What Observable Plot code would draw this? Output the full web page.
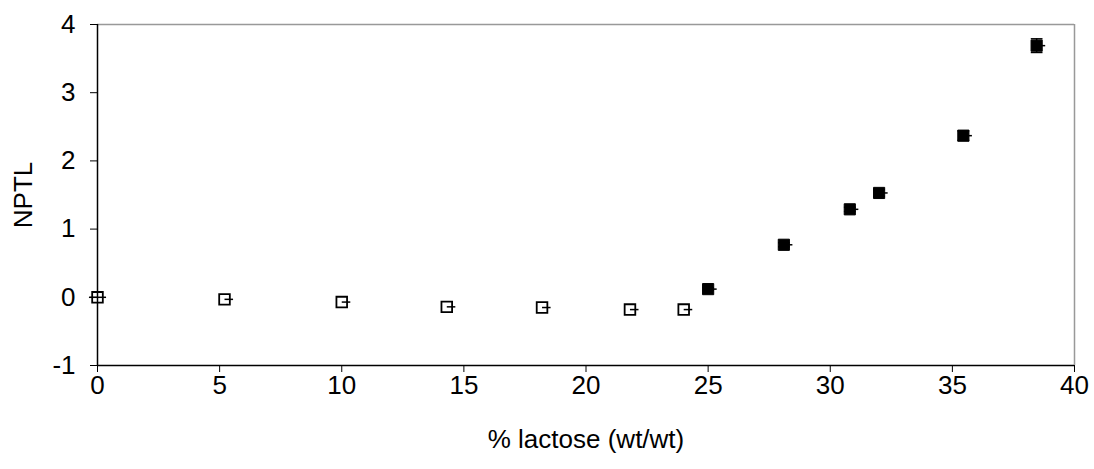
<!DOCTYPE html>
<html><head><meta charset="utf-8">
<script src="https://cdn.jsdelivr.net/npm/d3@7"></script>
<script src="https://cdn.jsdelivr.net/npm/@observablehq/plot@0.6"></script>
<style>
body{margin:0;background:#fff;}
svg{display:block;}
#chart svg, #chart svg text {font-size:26px !important; font-family:"Liberation Sans", Arial, sans-serif !important;}
</style>
</head><body><div id="chart"></div>
<script>
// Open squares (below threshold)
const openX = [0, 5.2, 10, 14.3, 18.2, 21.8, 24.0];
const openY = [0, -0.03, -0.07, -0.14, -0.15, -0.18, -0.18];
// Filled squares (above threshold)
const fillX = [25.0, 28.1, 30.8, 32.0, 35.45, 38.45];
const fillY = [0.12, 0.77, 1.29, 1.53, 2.37, 3.69];
const fillYErr = [0.02, 0.03, 0.03, 0.05, 0.07, 0.1];
const xErrPlus = 0.35;
const xTicks = [0, 5, 10, 15, 20, 25, 30, 35, 40];
const yTicks = [-1, 0, 1, 2, 3, 4];

const openPts = openX.map((x, i) => ({x, y: openY[i]}));
const fillPts = fillX.map((x, i) => ({x, y: fillY[i], e: fillYErr[i]}));
const allPts = openPts.concat(fillPts);
const fmt = d => String(d);

const chart = Plot.plot({
  width: 1094, height: 469,
  marginLeft: 97, marginRight: 20, marginTop: 24, marginBottom: 104,
  style: {background: "#fff", color: "#000"},
  x: {domain: [0, 40]},
  y: {domain: [-1, 4]},
  marks: [
    Plot.ruleY([4], {stroke: "#999", strokeWidth: 1.5}),
    Plot.ruleX([40], {stroke: "#999", strokeWidth: 1.5}),
    Plot.axisX({ticks: xTicks, tickFormat: fmt, tickSize: 7, tickPadding: 3, label: "% lactose (wt/wt)", labelAnchor: "center", labelArrow: "none", labelOffset: 82}),
    Plot.axisY({ticks: yTicks, tickFormat: fmt, tickSize: 7, tickPadding: 15, label: "NPTL", labelAnchor: "center", labelArrow: "none", labelOffset: 84}),
    Plot.ruleY([-1], {stroke: "#000", strokeWidth: 1.5}),
    Plot.ruleX([0], {stroke: "#000", strokeWidth: 1.5}),
    // x error bars (plus direction)
    Plot.link(allPts, {x1: d => d.x, x2: d => d.x + xErrPlus, y1: "y", y2: "y", stroke: "#000", strokeWidth: 1.5}),
    Plot.link([{x: 0, y: 0}], {x1: d => d.x - xErrPlus, x2: d => d.x, y1: "y", y2: "y", stroke: "#000", strokeWidth: 1.5}),
    // y error bars with caps
    Plot.ruleX(fillPts, {x: "x", y1: d => d.y - d.e, y2: d => d.y + d.e, stroke: "#000", strokeWidth: 1.5}),
    Plot.link(fillPts, {x1: d => d.x - 0.24, x2: d => d.x + 0.24, y1: d => d.y + d.e, y2: d => d.y + d.e, stroke: "#000", strokeWidth: 1.5}),
    Plot.link(fillPts, {x1: d => d.x - 0.24, x2: d => d.x + 0.24, y1: d => d.y - d.e, y2: d => d.y - d.e, stroke: "#000", strokeWidth: 1.5}),
    Plot.dot(openPts, {x: "x", y: "y", symbol: "square", r: 6.0, fill: "none", stroke: "#000", strokeWidth: 1.8}),
    Plot.dot(fillPts, {x: "x", y: "y", symbol: "square", r: 6.3, fill: "#000", stroke: "#000", strokeWidth: 1})
  ]
});
document.getElementById("chart").appendChild(chart);
</script></body></html>
